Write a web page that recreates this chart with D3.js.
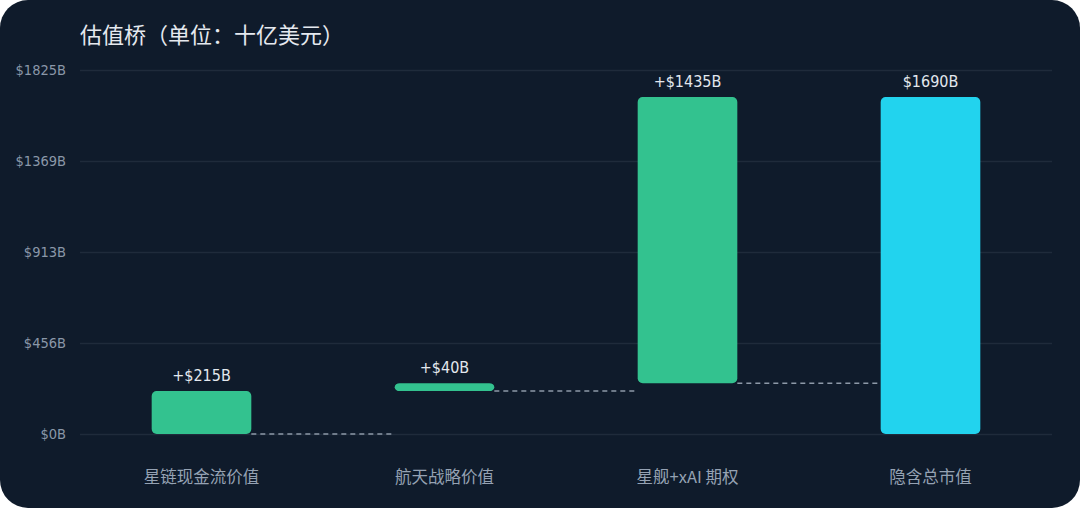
<!DOCTYPE html>
<html>
  <head>
    <meta charset="utf-8">
    <script src="https://d3js.org/d3.v7.min.js"></script>
    <style>
      body { margin: 0; background: #ffffff; }
      svg { display: block; }
    </style>
  </head>
  <body>
    <div id='container'></div>

    <script type="text/javascript">
      var width = 1080,
          height = 508;

      // Data
      var categories = ["星链现金流价值", "航天战略价值", "星舰+xAI 期权", "隐含总市值"];
      var values = [215, 40, 1435, 1690];
      var isTotal = [false, false, false, true];
      var valueLabels = ["+$215B", "+$40B", "+$1435B", "$1690B"];
      var yMax = 1825;
      var yTicks = [0, 456.25, 912.5, 1368.75, 1825];

      var margin = { top: 70, right: 28, bottom: 74, left: 80 };

      var svg = d3.select("#container").append("svg")
        .attr("width", width)
        .attr("height", height);

      // card background
      svg.append("rect")
        .attr("width", width)
        .attr("height", height)
        .attr("rx", 28)
        .attr("fill", "#0f1b2b");

      svg.append("text")
        .attr("x", 80)
        .attr("y", 43)
        .attr("fill", "#e5e9ef")
        .style("font-family", "'Noto Sans CJK SC', sans-serif")
        .style("font-size", "22px")
        .text("估值桥（单位：十亿美元）");

      var x = d3.scaleBand()
        .domain(categories)
        .range([margin.left, width - margin.right])
        .paddingInner(0.59)
        .paddingOuter(0.295);

      var y = d3.scaleLinear()
        .domain([0, yMax])
        .range([height - margin.bottom, margin.top]);

      // grid lines + y labels
      var yAxis = d3.axisLeft(y)
        .tickValues(yTicks)
        .tickSize(-(width - margin.right - margin.left))
        .tickPadding(14)
        .tickFormat(function(d) { return "$" + Math.round(d) + "B"; });

      var gy = svg.append("g")
        .attr("transform", "translate(" + margin.left + ",0)")
        .call(yAxis);
      gy.select(".domain").remove();
      gy.selectAll("line").attr("stroke", "#1f2b3b").attr("stroke-width", 1.5);
      gy.selectAll("text")
        .attr("fill", "#8a97a8")
        .style("font-family", "'DejaVu Sans Condensed', 'DejaVu Sans', sans-serif")
        .style("font-size", "14.5px");

      // waterfall steps
      var running = 0;
      var steps = values.map(function(v, i) {
        var start, end;
        if (isTotal[i]) { start = 0; end = v; }
        else { start = running; end = running + v; running = end; }
        return { cat: categories[i], start: start, end: end, total: isTotal[i], label: valueLabels[i] };
      });

      // dashed connectors
      svg.selectAll("line.conn")
        .data(steps.slice(0, -1))
        .enter().append("line")
          .attr("class", "conn")
          .attr("x1", function(d) { return x(d.cat) + x.bandwidth(); })
          .attr("x2", function(d, i) { return x(steps[i + 1].cat) - 3; })
          .attr("y1", function(d) { return y(d.start); })
          .attr("y2", function(d) { return y(d.start); })
          .attr("stroke", "#8d99a8")
          .attr("stroke-width", 1.5)
          .attr("stroke-dasharray", "5,4");

      svg.selectAll("rect.bar")
        .data(steps)
        .enter().append("rect")
          .attr("class", "bar")
          .attr("x", function(d) { return x(d.cat); })
          .attr("y", function(d) { return y(d.end); })
          .attr("width", x.bandwidth())
          .attr("height", function(d) { return y(d.start) - y(d.end); })
          .attr("rx", 5)
          .attr("fill", function(d) { return d.total ? "#22d3ee" : "#33c28f"; });

      svg.selectAll("text.val")
        .data(steps)
        .enter().append("text")
          .attr("class", "val")
          .attr("x", function(d) { return x(d.cat) + x.bandwidth() / 2; })
          .attr("y", function(d) { return y(d.end) - 10; })
          .attr("text-anchor", "middle")
          .attr("fill", "#e3e8ee")
          .style("font-family", "'DejaVu Sans Condensed', 'DejaVu Sans', sans-serif")
          .style("font-size", "16px")
          .text(function(d) { return d.label; });

      svg.selectAll("text.cat")
        .data(categories)
        .enter().append("text")
          .attr("class", "cat")
          .attr("x", function(d) { return x(d) + x.bandwidth() / 2; })
          .attr("y", 483)
          .attr("text-anchor", "middle")
          .attr("fill", "#95a2b3")
          .style("font-family", "'Noto Sans CJK SC', sans-serif")
          .style("font-size", "16.5px")
          .text(function(d) { return d; });
    </script>
  </body>
</html>
